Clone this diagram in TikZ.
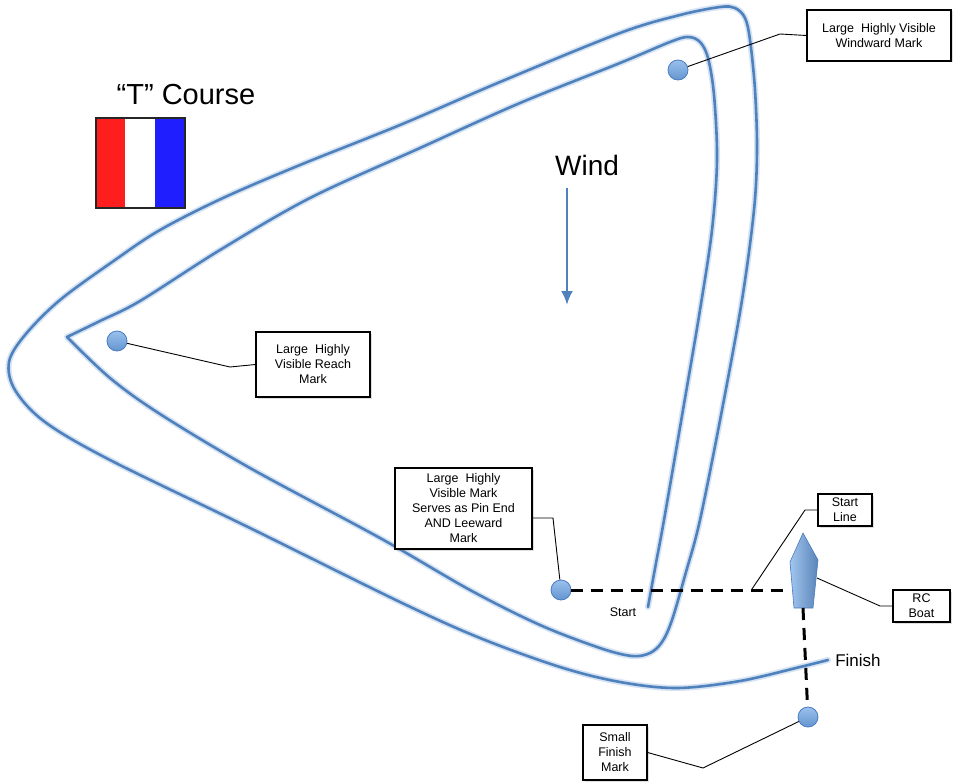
\documentclass[tikz,border=0pt]{standalone}
\usepackage{fontspec}
\setmainfont{Liberation Sans}
\usetikzlibrary{arrows.meta,shadows}
\definecolor{course}{HTML}{4F81BD}
\definecolor{glow}{HTML}{D6E3F3}
\definecolor{markfill}{HTML}{6FA6E6}
\definecolor{markdraw}{HTML}{4A7CC0}
\definecolor{flagred}{HTML}{FF1E1E}
\definecolor{flagblue}{HTML}{1E1EFF}
\begin{document}
\begin{tikzpicture}[x=1pt,y=-1pt,
  coursestyle/.style={draw=course, line width=2.6pt, line join=round, line cap=round,
    preaction={draw=glow, line width=6pt, line join=round, line cap=round}},
  markstyle/.style={circle, minimum size=20pt, inner sep=0pt, draw=markdraw, line width=0.8pt,
    top color=markfill!70!white, bottom color=markfill!90!black},
  labelbox/.style={draw=black, line width=1.2pt, fill=white, align=center, inner sep=0pt,
    font=\fontsize{12.5}{15}\selectfont,
    drop shadow={shadow xshift=1.5pt, shadow yshift=-1.5pt, opacity=0.25}},
  leader/.style={draw=black, line width=0.9pt},
  dashline/.style={draw=black, line width=3pt, dash pattern=on 12pt off 8pt}
]
\useasboundingbox (0,0) rectangle (954,784);

% title and flag
\node[font=\fontsize{29}{33}\selectfont] (title) at (186,95) {“T” Course};
\fill[flagred] (96,118) rectangle (125,208);
\fill[white] (125,118) rectangle (155,208);
\fill[flagblue] (155,118) rectangle (185,208);
\draw[line width=1.3pt, black!85] (96,118) rectangle (185,208);

% wind
\node[font=\fontsize{28}{32}\selectfont] (wind) at (587,165) {Wind};
\coordinate (windend) at (567,305);
\draw[draw=course, line width=2.6pt, -{Latex[length=14pt,width=12pt]}] (567,188) -- (windend);

% course path
\draw[coursestyle]
  plot[smooth, tension=0.55] coordinates {(648,607) (656,563) (664,520) (683,410) (700,310) (712,230) (717,160) (714,95) (708,58) (700,42) (688,37) (670,42) (620,63) (520,103) (420,148) (310,198) (220,250) (140,301) (100,321) (67,337)}
  -- plot[smooth, tension=0.55] coordinates {(67,337) (110,378) (160,414) (250,468) (380,538) (470,590) (540,625) (600,648) (632,656) (650,653) (662,642) (672,620) (686,572) (700,520) (722,410) (742,300) (754,210) (757,150) (755,90) (750,40) (745,18) (735,8) (720,7) (680,15) (620,33) (500,82) (400,125) (300,165) (223,198) (160,230) (115,260) (60,300) (25,335) (9,362) (15,390) (45,422) (110,460) (250,528) (400,602) (480,638) (560,667) (620,682) (677,688) (740,681) (800,667) (828,660)};

% marks
\node[markstyle] (ww) at (678,70) {};
\node[markstyle] (rm) at (117,341) {};
\node[markstyle] (pm) at (561,590) {};
\node[markstyle] (fm) at (808,717) {};

% RC boat
\coordinate (boatL) at (790,590);
\coordinate (boatR) at (817,578);
\coordinate (boatB) at (803,608);
\draw[draw=markdraw, line width=0.6pt, left color=markfill!65!white, right color=markfill!80!black]
  (803,533) -- (818,560) -- (813,608) -- (794,608) -- (790,562) -- cycle;

% dashed start and finish lines
\draw[dashline] (pm) -- (boatL);
\draw[dashline] (boatB) -- (fm);

% texts on course
\node[font=\fontsize{12.5}{15}\selectfont] (start) at (623,612) {Start};
\node[font=\fontsize{17}{20}\selectfont] (finish) at (858,660) {Finish};

% label boxes
\node[labelbox, minimum width=144pt, minimum height=51pt] (wwbox) at (879,35.5) {Large\ \ Highly Visible\\Windward Mark};
\node[labelbox, minimum width=114pt, minimum height=65pt] (rmbox) at (313,364.5) {Large\ \ Highly\\Visible Reach\\Mark};
\node[labelbox, minimum width=137pt, minimum height=81pt] (pinbox) at (463.5,508.5) {Large\ \ Highly\\Visible Mark\\Serves as Pin End\\AND Leeward\\Mark};
\node[labelbox, minimum width=54pt, minimum height=32pt] (slbox) at (845,510) {Start\\Line};
\node[labelbox, minimum width=57pt, minimum height=32pt] (rcbox) at (921.5,606) {RC\\Boat};
\node[labelbox, minimum width=64pt, minimum height=55pt] (sfbox) at (615,752.5) {Small\\Finish\\Mark};

% leaders
\coordinate (slpt) at (752,589);
\draw[leader] (ww) -- (780,34) -- (wwbox.west);
\draw[leader] (rm) -- (230,367) -- (rmbox.west);
\draw[leader] ([yshift=-9.5pt]pinbox.east) -- (553,518) -- (pm);
\draw[leader] (slbox.west) -- (805,510) -- (slpt);
\draw[leader] (boatR) -- (880,606) -- (rcbox.west);
\draw[leader] (sfbox.east) -- (703,768) -- (fm);
\end{tikzpicture}
\end{document}
